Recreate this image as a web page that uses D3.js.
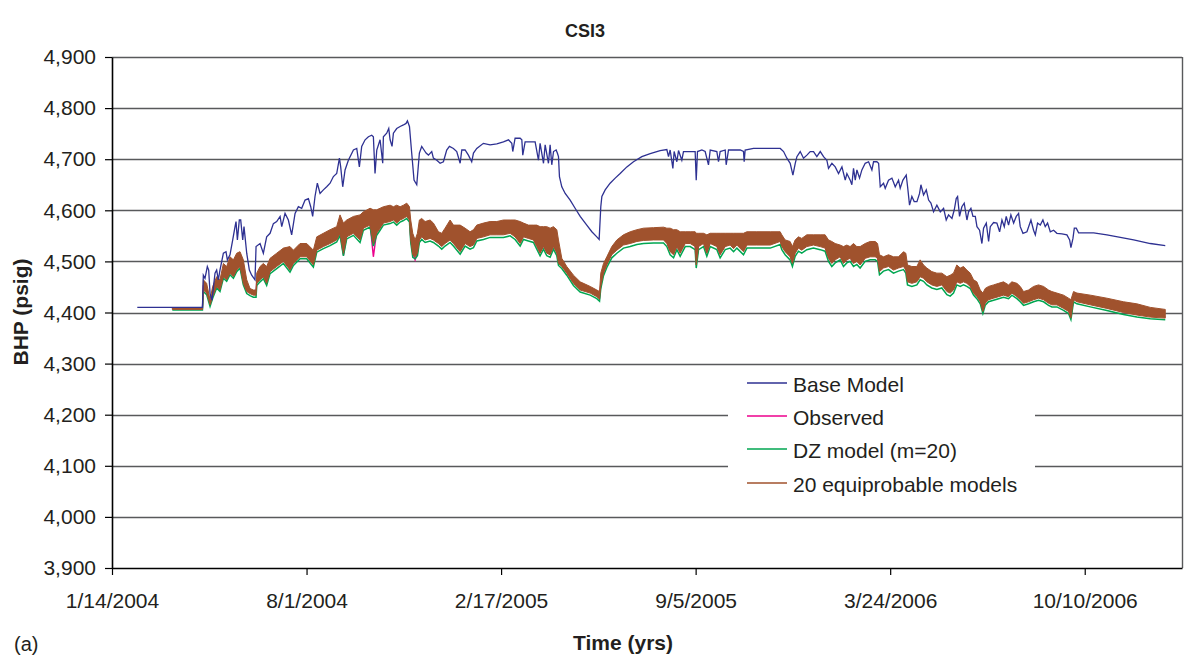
<!DOCTYPE html>
<html><head><meta charset="utf-8">
<script src="https://cdn.jsdelivr.net/npm/d3@7"></script>
<style>
body{margin:0;background:#fff;}
svg{display:block;font-family:Arial,"Liberation Sans",sans-serif;}
</style>
</head><body>
<svg id="chart" width="1185" height="656"></svg>
<script>
// ---------------- DATA ----------------
const chartTitle = "CSI3";
const yTitle = "BHP (psig)";
const xTitle = "Time (yrs)";
const panelTag = "(a)";
const startDate = "1/14/2004";
const spanDays = 1100;
const xTickLabels = ["1/14/2004", "8/1/2004", "2/17/2005", "9/5/2005", "3/24/2006", "10/10/2006"];
const yTicks = [3900, 4000, 4100, 4200, 4300, 4400, 4500, 4600, 4700, 4800, 4900];
const seriesNames = ["Base Model", "Observed", "DZ model (m=20)", "20 equiprobable models"];

// Base model: days since start, BHP (psig)
const baseDays = [
  26, 93, 93.9, 95.6, 98.0, 99.4, 100.8, 102.8, 105.9, 107.6,
  109.3, 111.0, 114.5, 117.2, 118.6, 121.3, 124.1, 126.5, 127.5, 128.9,
  130.9, 132.3, 134.4, 135.7, 138.5, 141.2, 143.6, 147.0, 148.1, 152.2,
  155.6, 159.0, 162.5, 165.9, 169.3, 172.8, 174.5, 177.9, 181.3, 184.7,
  188.2, 191.6, 195.0, 198.5, 201.9, 204.3, 206.3, 208.7, 211.1, 213.9,
  217.3, 220.7, 224.2, 227.6, 231.0, 233.8, 235.1, 237.2, 239.6, 243.0,
  248.2, 251.6, 254.3, 256.7, 260.2, 263.6, 267.0, 268.7, 270.4, 272.2,
  275.6, 278.3, 279.0, 282.4, 284.5, 285.9, 287.9, 289.3, 292.7, 296.2,
  299.6, 302.3, 303.7, 305.8, 308.1, 310.5, 313.3, 316.0, 318.4, 320.8,
  322.9, 325.3, 328.7, 330.4, 333.9, 337.3, 340.7, 344.1, 346.9, 351.0,
  354.4, 357.9, 359.6, 363.0, 366.4, 369.8, 371.6, 375.0, 381.8, 388.7,
  395.6, 402.4, 407.6, 411.0, 412.0, 414.4, 419.6, 421.3, 422.3, 424.7,
  429.9, 435.0, 438.4, 440.1, 443.6, 445.3, 448.7, 450.4, 452.1, 453.9,
  456.6, 458.0, 459.0, 460.0, 462.4, 465.9, 471.0, 476.1, 481.3, 488.1,
  493.3, 498.4, 500.8, 502.5, 503.6, 507.0, 512.1, 517.3, 522.4, 529.3,
  536.1, 544.7, 553.3, 563.5, 570.4, 572.1, 573.8, 576.6, 577.9, 580.7,
  582.4, 585.8, 587.5, 592.7, 599.5, 600.6, 601.9, 606.4, 609.8, 613.2,
  615.0, 621.8, 623.5, 625.2, 630.4, 631.4, 633.8, 639.0, 645.8, 649.2,
  649.9, 650.9, 659.5, 673.2, 687.0, 690.4, 693.8, 697.2, 700.0, 702.4,
  704.1, 707.5, 710.9, 714.4, 717.8, 721.2, 724.6, 728.1, 731.5, 734.9,
  736.6, 740.1, 743.5, 746.9, 750.4, 753.8, 755.5, 758.9, 760.6, 762.3,
  764.1, 765.8, 768.5, 770.9, 774.3, 777.8, 781.2, 782.9, 786.3, 788.1,
  789.8, 793.2, 794.9, 798.3, 801.8, 805.2, 808.6, 810.3, 813.1, 816.5,
  817.9, 819.9, 822.3, 824.7, 827.5, 830.2, 831.6, 834.3, 837.1, 839.5,
  841.9, 844.6, 848.0, 851.5, 854.9, 857.6, 860.0, 863.5, 865.9, 867.9,
  869.3, 871.3, 873.7, 876.1, 878.9, 880.6, 883.0, 885.1, 887.5, 889.2,
  891.9, 894.3, 896.0, 898.8, 901.2, 902.9, 906.3, 909.7, 912.5, 914.9,
  917.3, 919.3, 921.7, 924.1, 926.9, 929.6, 932.0, 933.7, 936.5, 940.6,
  944.7, 947.4, 949.2, 951.5, 954.3, 957.0, 959.4, 961.8, 964.6, 968.0,
  971.4, 976.6, 981.7, 984.5, 985.8, 987.9, 989.3, 991.3, 993.7, 1009.2,
  1022.8, 1036.6, 1050.3, 1067.4, 1082.8
];
const basePsig = [
  4410, 4410, 4473, 4467, 4490, 4483, 4437, 4424, 4477, 4483,
  4464, 4483, 4516, 4519, 4503, 4513, 4542, 4568, 4578, 4542,
  4581, 4581, 4542, 4568, 4516, 4483, 4473, 4464, 4529, 4535,
  4516, 4548, 4555, 4574, 4578, 4588, 4568, 4594, 4581, 4552,
  4594, 4607, 4604, 4620, 4623, 4607, 4588, 4627, 4653, 4633,
  4640, 4646, 4653, 4666, 4672, 4702, 4685, 4646, 4679, 4698,
  4718, 4721, 4685, 4725, 4738, 4744, 4747, 4744, 4672, 4718,
  4738, 4692, 4744, 4751, 4760, 4738, 4725, 4751, 4760, 4764,
  4767, 4770, 4775, 4764, 4712, 4659, 4650, 4712, 4725, 4718,
  4712, 4708, 4715, 4702, 4698, 4692, 4695, 4718, 4725, 4721,
  4715, 4692, 4718, 4718, 4708, 4695, 4712, 4721, 4731, 4728,
  4730, 4734, 4738, 4731, 4715, 4741, 4741, 4738, 4708, 4734,
  4734, 4734, 4698, 4731, 4692, 4728, 4692, 4728, 4689, 4715,
  4718, 4711, 4705, 4666, 4646, 4633, 4620, 4604, 4588, 4571,
  4558, 4548, 4543, 4607, 4627, 4640, 4653, 4663, 4672, 4685,
  4695, 4705, 4711, 4717, 4719, 4705, 4718, 4682, 4715, 4695,
  4717, 4698, 4715, 4715, 4715, 4659, 4715, 4718, 4715, 4689,
  4718, 4715, 4695, 4715, 4718, 4689, 4718, 4718, 4718, 4715,
  4695, 4718, 4721, 4721, 4721, 4715, 4702, 4692, 4669, 4692,
  4705, 4715, 4702, 4708, 4715, 4715, 4705, 4715, 4705, 4698,
  4682, 4692, 4685, 4672, 4685, 4659, 4672, 4659, 4650, 4682,
  4659, 4679, 4663, 4679, 4692, 4695, 4679, 4695, 4695, 4692,
  4646, 4653, 4643, 4659, 4663, 4646, 4659, 4643, 4659, 4669,
  4646, 4610, 4627, 4617, 4617, 4633, 4650, 4630, 4640, 4620,
  4614, 4597, 4610, 4597, 4604, 4581, 4591, 4584, 4601, 4623,
  4627, 4588, 4607, 4614, 4581, 4597, 4604, 4588, 4588, 4568,
  4561, 4535, 4565, 4575, 4539, 4568, 4576, 4575, 4558, 4581,
  4568, 4588, 4571, 4591, 4575, 4588, 4594, 4568, 4555, 4558,
  4581, 4561, 4552, 4575, 4571, 4581, 4568, 4575, 4558, 4561,
  4555, 4554, 4552, 4542, 4527, 4545, 4565, 4565, 4556, 4556,
  4552, 4547, 4542, 4535, 4531
];

// History-matched runs share one time axis (days since start)
const modelDays = [
  62, 93, 93.9, 97.3, 100.8, 103.5, 107.6, 111.0, 114.5, 117.9,
  121.3, 124.8, 128.2, 131.6, 135.0, 138.5, 141.9, 145.3, 148.1, 148.8,
  152.2, 155.6, 159.0, 162.5, 169.3, 176.2, 183.0, 186.5, 193.3, 200.2,
  207.0, 210.5, 217.3, 224.2, 231.0, 234.4, 237.9, 241.3, 248.2, 255.0,
  258.4, 265.3, 268.7, 272.1, 275.6, 279.0, 285.9, 289.3, 292.7, 296.2,
  299.6, 303.0, 305.8, 307.1, 309.2, 311.6, 314.0, 316.0, 318.4, 321.9,
  327.0, 330.4, 335.6, 339.0, 342.4, 347.6, 351.0, 357.9, 363.0, 368.1,
  371.6, 375.0, 381.9, 388.7, 395.6, 402.4, 409.3, 414.4, 419.6, 423.0,
  428.1, 433.3, 436.7, 440.1, 443.6, 447.0, 450.4, 453.8, 457.3, 459.0,
  462.4, 467.5, 474.4, 481.3, 491.6, 498.4, 501.2, 502.5, 505.3, 508.7,
  513.8, 519.0, 525.8, 532.7, 539.6, 546.4, 556.7, 567.0, 570.4, 573.8,
  577.3, 580.7, 584.1, 589.3, 594.4, 599.5, 600.6, 603.0, 608.1, 611.5,
  615.0, 621.8, 625.2, 630.4, 635.5, 639.0, 642.4, 649.2, 652.7, 662.9,
  676.7, 686.9, 688.6, 692.0, 697.1, 699.5, 702.3, 705.7, 709.1, 714.3,
  721.1, 728.0, 733.1, 736.6, 740.0, 743.4, 748.6, 752.0, 755.4, 758.8,
  762.3, 765.7, 769.1, 774.3, 779.4, 784.6, 787.0, 789.0, 793.1, 798.3,
  803.4, 808.5, 813.7, 816.1, 817.8, 822.3, 827.4, 830.8, 834.3, 837.7,
  842.8, 848.0, 853.1, 858.3, 861.7, 865.1, 868.5, 872.0, 875.4, 878.8,
  882.3, 885.7, 889.1, 892.6, 895.3, 897.7, 901.1, 906.3, 911.4, 916.5,
  921.7, 925.1, 930.3, 933.7, 937.1, 942.2, 947.4, 952.5, 957.7, 962.8,
  966.2, 971.4, 978.2, 983.4, 985.8, 988.5, 992.0, 1005.7, 1022.8, 1039.9,
  1053.6, 1067.4, 1082.8
];
// upper envelope of the 20 equiprobable models
const ensHigh = [
  4409, 4409, 4464, 4457, 4425, 4451, 4470, 4464, 4496, 4490,
  4509, 4503, 4516, 4519, 4503, 4464, 4447, 4444, 4444, 4477,
  4490, 4496, 4490, 4506, 4516, 4526, 4529, 4522, 4535, 4535,
  4522, 4548, 4555, 4562, 4568, 4591, 4575, 4581, 4588, 4591,
  4597, 4604, 4601, 4601, 4604, 4607, 4610, 4607, 4610, 4607,
  4610, 4614, 4607, 4581, 4555, 4542, 4555, 4581, 4584, 4578,
  4581, 4575, 4558, 4555, 4565, 4581, 4571, 4571, 4565, 4558,
  4562, 4571, 4575, 4578, 4578, 4581, 4581, 4581, 4578, 4575,
  4571, 4571, 4571, 4568, 4568, 4568, 4565, 4568, 4562, 4542,
  4506, 4490, 4473, 4460, 4451, 4444, 4441, 4477, 4496, 4509,
  4529, 4542, 4552, 4558, 4562, 4565, 4566, 4567, 4565, 4565,
  4562, 4562, 4558, 4558, 4558, 4558, 4555, 4555, 4555, 4552,
  4555, 4555, 4555, 4555, 4555, 4555, 4555, 4555, 4558, 4558,
  4558, 4558, 4552, 4542, 4539, 4529, 4542, 4548, 4545, 4552,
  4552, 4552, 4552, 4542, 4539, 4535, 4532, 4529, 4532, 4529,
  4535, 4529, 4529, 4535, 4539, 4539, 4535, 4513, 4509, 4513,
  4509, 4509, 4519, 4516, 4493, 4490, 4490, 4503, 4493, 4487,
  4480, 4477, 4477, 4470, 4473, 4477, 4493, 4487, 4490, 4483,
  4477, 4464, 4460, 4444, 4438, 4447, 4451, 4454, 4457, 4460,
  4454, 4460, 4457, 4451, 4441, 4444, 4451, 4454, 4451, 4444,
  4441, 4438, 4434, 4428, 4425, 4441, 4438, 4434, 4428, 4421,
  4417, 4410, 4406
];
// lower envelope of the 20 equiprobable models
const ensLow = [
  4406, 4406, 4444, 4438, 4415, 4431, 4451, 4444, 4470, 4464,
  4477, 4470, 4483, 4490, 4457, 4441, 4437, 4434, 4434, 4457,
  4464, 4470, 4457, 4480, 4490, 4500, 4483, 4496, 4509, 4509,
  4493, 4522, 4529, 4535, 4542, 4555, 4516, 4548, 4555, 4542,
  4565, 4571, 4535, 4555, 4565, 4575, 4578, 4581, 4575, 4581,
  4584, 4588, 4581, 4542, 4513, 4509, 4516, 4542, 4548, 4542,
  4545, 4542, 4535, 4529, 4535, 4542, 4535, 4519, 4535, 4529,
  4532, 4545, 4548, 4552, 4552, 4552, 4555, 4548, 4535, 4548,
  4545, 4542, 4529, 4516, 4529, 4516, 4513, 4529, 4516, 4496,
  4490, 4477, 4457, 4444, 4438, 4431, 4426, 4451, 4477, 4493,
  4513, 4522, 4532, 4535, 4539, 4541, 4542, 4542, 4535, 4519,
  4513, 4529, 4516, 4535, 4535, 4529, 4493, 4529, 4535, 4516,
  4535, 4529, 4513, 4529, 4532, 4525, 4532, 4519, 4532, 4532,
  4532, 4539, 4529, 4519, 4509, 4496, 4516, 4526, 4522, 4529,
  4532, 4529, 4526, 4506, 4496, 4503, 4509, 4496, 4503, 4506,
  4496, 4500, 4493, 4506, 4509, 4509, 4506, 4480, 4487, 4490,
  4483, 4487, 4490, 4483, 4460, 4457, 4460, 4470, 4467, 4460,
  4454, 4451, 4454, 4441, 4438, 4444, 4460, 4457, 4460, 4457,
  4451, 4438, 4431, 4421, 4402, 4418, 4425, 4428, 4431, 4434,
  4431, 4438, 4431, 4425, 4418, 4421, 4425, 4428, 4425, 4418,
  4415, 4415, 4408, 4402, 4389, 4425, 4421, 4415, 4408, 4400,
  4395, 4391, 4389
];
// DZ model (m=20)
const dzPsig = [
  4405, 4405, 4441, 4435, 4412, 4428, 4448, 4441, 4467, 4461,
  4474, 4467, 4480, 4487, 4454, 4437, 4433, 4430, 4430, 4453,
  4460, 4466, 4453, 4476, 4486, 4496, 4479, 4492, 4505, 4505,
  4489, 4518, 4525, 4531, 4538, 4551, 4511, 4544, 4551, 4537,
  4561, 4567, 4530, 4551, 4561, 4571, 4574, 4577, 4571, 4577,
  4580, 4584, 4577, 4537, 4508, 4505, 4511, 4537, 4543, 4537,
  4540, 4537, 4530, 4524, 4530, 4537, 4530, 4514, 4530, 4524,
  4527, 4540, 4543, 4547, 4547, 4547, 4550, 4543, 4530, 4543,
  4540, 4537, 4524, 4511, 4524, 4511, 4508, 4524, 4511, 4492,
  4486, 4473, 4453, 4440, 4434, 4427, 4422, 4447, 4472, 4488,
  4507, 4516, 4526, 4529, 4533, 4535, 4536, 4536, 4529, 4513,
  4507, 4523, 4510, 4529, 4529, 4523, 4487, 4523, 4529, 4510,
  4529, 4523, 4507, 4523, 4526, 4519, 4526, 4513, 4526, 4526,
  4526, 4533, 4523, 4513, 4503, 4490, 4510, 4520, 4516, 4523,
  4526, 4523, 4520, 4500, 4490, 4497, 4503, 4490, 4497, 4500,
  4490, 4494, 4487, 4500, 4503, 4503, 4500, 4474, 4481, 4484,
  4477, 4481, 4484, 4477, 4454, 4451, 4454, 4464, 4461, 4454,
  4448, 4445, 4448, 4435, 4432, 4438, 4454, 4451, 4454, 4451,
  4447, 4434, 4427, 4417, 4398, 4414, 4421, 4424, 4427, 4430,
  4427, 4434, 4427, 4421, 4414, 4417, 4421, 4424, 4421, 4414,
  4411, 4411, 4404, 4398, 4386, 4421, 4417, 4411, 4404, 4396,
  4391, 4388, 4386
];
// Observed BHP
const obsPsig = [
  4408, 4408, 4450, 4441, 4418, 4434, 4454, 4447, 4473, 4467,
  4480, 4473, 4486, 4493, 4460, 4444, 4440, 4437, 4437, 4460,
  4467, 4473, 4460, 4483, 4493, 4503, 4486, 4499, 4512, 4512,
  4496, 4525, 4532, 4538, 4545, 4558, 4512, 4551, 4558, 4545,
  4568, 4574, 4509, 4558, 4568, 4578, 4581, 4584, 4578, 4584,
  4587, 4591, 4584, 4545, 4516, 4503, 4519, 4545, 4551, 4545,
  4548, 4545, 4538, 4532, 4538, 4545, 4538, 4522, 4538, 4532,
  4535, 4548, 4551, 4555, 4555, 4555, 4558, 4551, 4538, 4551,
  4548, 4545, 4532, 4519, 4532, 4519, 4516, 4532, 4519, 4499,
  4493, 4480, 4460, 4447, 4441, 4434, 4429, 4454, 4480, 4496,
  4516, 4525, 4535, 4538, 4542, 4544, 4545, 4545, 4538, 4522,
  4516, 4532, 4519, 4538, 4538, 4532, 4496, 4532, 4538, 4519,
  4538, 4532, 4516, 4532, 4535, 4528, 4535, 4522, 4535, 4535,
  4535, 4542, 4532, 4522, 4512, 4499, 4519, 4529, 4525, 4532,
  4535, 4532, 4529, 4509, 4499, 4506, 4512, 4499, 4506, 4509,
  4499, 4503, 4496, 4509, 4512, 4512, 4509, 4483, 4490, 4493,
  4486, 4490, 4493, 4486, 4463, 4460, 4463, 4473, 4470, 4463,
  4457, 4454, 4457, 4444, 4441, 4447, 4463, 4460, 4463, 4460,
  4454, 4441, 4434, 4424, 4405, 4421, 4428, 4431, 4434, 4437,
  4434, 4441, 4434, 4428, 4421, 4424, 4428, 4431, 4428, 4421,
  4418, 4418, 4411, 4405, 4392, 4428, 4424, 4418, 4411, 4403,
  4398, 4394, 4392
];

// ---------------- STYLE ----------------
const colBase = "#2e3192", colObs = "#ec008c", colDZ = "#00a651", colEns = "#a0522d";
const textCol = "#231f20", gridCol = "#58595b";

// ---------------- CHART ----------------
const svg = d3.select("#chart");
const W = 1185, H = 656;
const m = {left: 112, right: 1182, top: 57, bottom: 568};
const parse = d3.utcParse("%m/%d/%Y");
const t0 = parse(startDate);
const dayDate = d => new Date(t0.getTime() + d * 864e5);

const x = d3.scaleUtc().domain([t0, dayDate(spanDays)]).range([m.left, m.right]);
const y = d3.scaleLinear().domain([yTicks[0], yTicks[yTicks.length - 1]]).range([m.bottom, m.top]);

svg.append("rect").attr("width", W).attr("height", H).attr("fill", "#fff");

// gridlines
svg.append("g").selectAll("line").data(yTicks.slice(1)).join("line")
  .attr("x1", m.left).attr("x2", m.right)
  .attr("y1", d => Math.round(y(d)) + 0.5).attr("y2", d => Math.round(y(d)) + 0.5)
  .attr("stroke", gridCol).attr("stroke-width", 1.4);
svg.append("line").attr("x1", m.right + 0.5).attr("x2", m.right + 0.5)
  .attr("y1", m.top).attr("y2", m.bottom)
  .attr("stroke", gridCol).attr("stroke-width", 1.4);

// series
const baseData = baseDays.map((d, i) => ({t: dayDate(d), v: basePsig[i]}));
const modelData = modelDays.map((d, i) => ({
  t: dayDate(d), hi: ensHigh[i], lo: ensLow[i], dz: dzPsig[i], obs: obsPsig[i]
}));

const lineOf = key => d3.line().x(d => x(d.t)).y(d => y(d[key]));

svg.append("path").datum(modelData).attr("d", lineOf("obs"))
  .attr("fill", "none").attr("stroke", colObs).attr("stroke-width", 1.4);
svg.append("path").datum(modelData).attr("d", lineOf("dz"))
  .attr("fill", "none").attr("stroke", colDZ).attr("stroke-width", 1.5);
svg.append("path").datum(modelData)
  .attr("d", d3.area().x(d => x(d.t)).y0(d => y(d.lo)).y1(d => y(d.hi)))
  .attr("fill", colEns).attr("stroke", colEns).attr("stroke-width", 1)
  .attr("stroke-linejoin", "round");
svg.append("path").datum(baseData).attr("d", lineOf("v"))
  .attr("fill", "none").attr("stroke", colBase).attr("stroke-width", 1.3);

// axes
const xAxis = d3.axisBottom(x)
  .tickValues(xTickLabels.map(parse))
  .tickFormat(d3.utcFormat("%-m/%-d/%Y"))
  .tickSize(7).tickPadding(18).tickSizeOuter(0);
const gx = svg.append("g").attr("transform", `translate(0,${m.bottom})`).call(xAxis);
const yAxis = d3.axisLeft(y).tickValues(yTicks).tickFormat(d3.format(","))
  .tickSize(7).tickPadding(9).tickSizeOuter(0);
const gy = svg.append("g").attr("transform", `translate(${m.left},0)`).call(yAxis);
[gx, gy].forEach(g => {
  g.select(".domain").attr("stroke", "#000").attr("stroke-width", 1.6);
  g.selectAll(".tick line").attr("stroke", "#000").attr("stroke-width", 1.2);
  g.selectAll(".tick text").attr("fill", textCol).attr("font-size", 21)
    .attr("font-family", "Arial, 'Liberation Sans', sans-serif");
});

// titles
svg.append("text").attr("x", 585).attr("y", 37).attr("text-anchor", "middle")
  .attr("font-weight", "bold").attr("font-size", 18).attr("fill", textCol).text(chartTitle);
svg.append("text").attr("x", 623).attr("y", 650).attr("text-anchor", "middle")
  .attr("font-weight", "bold").attr("font-size", 21).attr("fill", textCol).text(xTitle);
svg.append("text").attr("transform", "translate(28,312) rotate(-90)").attr("text-anchor", "middle")
  .attr("font-weight", "bold").attr("font-size", 21).attr("fill", textCol).text(yTitle);
svg.append("text").attr("x", 14).attr("y", 651)
  .attr("font-size", 20).attr("fill", textCol).text(panelTag);

// legend
const legColors = [colBase, colObs, colDZ, colEns];
const lg = svg.append("g");
lg.append("rect").attr("x", 728).attr("y", 368).attr("width", 307).attr("height", 136).attr("fill", "#fff");
const legY = [383, 416, 449, 483];
seriesNames.forEach((name, i) => {
  lg.append("line").attr("x1", 747).attr("x2", 787).attr("y1", legY[i]).attr("y2", legY[i])
    .attr("stroke", legColors[i]).attr("stroke-width", 1.5);
  lg.append("text").attr("x", 793).attr("y", legY[i] + 8.5).attr("font-size", 21)
    .attr("fill", textCol).text(name);
});
</script>
</body></html>
